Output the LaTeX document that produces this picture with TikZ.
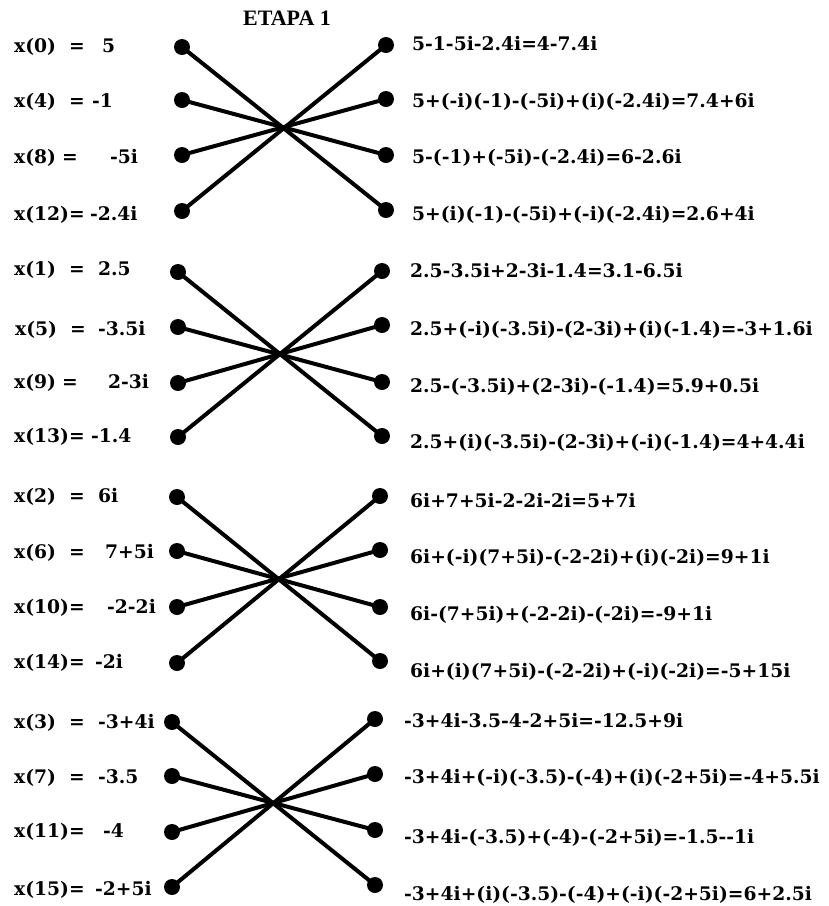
\documentclass[tikz,border=0pt]{standalone}
\usepackage{fontspec}
\setmainfont{DejaVu Serif}
\newfontfamily\titlefont{Liberation Serif}
\begin{document}
\begin{tikzpicture}[x=1pt,y=-1pt,
  dot/.style={circle,fill=black,inner sep=0pt,minimum size=16pt},
  wire/.style={line width=4pt},
  txt/.style={anchor=base west,inner sep=0pt,font=\bfseries\fontsize{18.7}{22}\selectfont},
  eqs/.style={anchor=base,inner sep=0pt,font=\bfseries\fontsize{18.7}{22}\selectfont},
  title/.style={anchor=base,inner sep=0pt,font=\titlefont\bfseries\fontsize{22}{24}\selectfont}]
\useasboundingbox (0,0) rectangle (829,906);

\node[title] (etapa) at (287,25) {ETAPA 1};

% four butterflies: left dots, right dots, crossing wires
\foreach \g/\lx/\rx/\la/\lb/\lc/\ld/\ra/\rb/\rc/\rd in {
  1/182/386/47/100/155/211/45/99/155/210,
  2/178/382/272/327/383/437/271/325/382/436,
  3/177/380/497/551/607/663/496/550/607/661,
  4/172/375/722/776/832/887/719/774/830/885}{
  \node[dot] (L\g-1) at (\lx,\la) {};
  \node[dot] (L\g-2) at (\lx,\lb) {};
  \node[dot] (L\g-3) at (\lx,\lc) {};
  \node[dot] (L\g-4) at (\lx,\ld) {};
  \node[dot] (R\g-1) at (\rx,\ra) {};
  \node[dot] (R\g-2) at (\rx,\rb) {};
  \node[dot] (R\g-3) at (\rx,\rc) {};
  \node[dot] (R\g-4) at (\rx,\rd) {};
  \draw[wire] (L\g-1.center) -- (R\g-4.center);
  \draw[wire] (L\g-2.center) -- (R\g-3.center);
  \draw[wire] (L\g-3.center) -- (R\g-2.center);
  \draw[wire] (L\g-4.center) -- (R\g-1.center);
}

% inputs, group 1
\node[txt] (x0)  at (14,52)  {x(0)};  \node[eqs] (e0) at (77,52)  {=}; \node[txt] (v0)  at (102,52) {5};
\node[txt] (x4)  at (14,107) {x(4)};  \node[eqs] (e4) at (77,107) {=}; \node[txt] (v4)  at (92,107)  {-1};
\node[txt] (x8)  at (14,163) {x(8)};  \node[eqs] (e8) at (70,163) {=}; \node[txt] (v8)  at (110,163) {-5i};
\node[txt] (x12) at (14,220) {x(12)=}; \node[txt] (v12) at (90,220) {-2.4i};
% inputs, group 2
\node[txt] (x1)  at (14,275) {x(1)};  \node[eqs] (e1) at (77,275) {=}; \node[txt] (v1)  at (98,275)  {2.5};
\node[txt] (x5)  at (15,335) {x(5)};  \node[eqs] (e5) at (78,335) {=}; \node[txt] (v5)  at (98,335)  {-3.5i};
\node[txt] (x9)  at (14,388) {x(9)};  \node[eqs] (e9) at (70,388) {=}; \node[txt] (v9)  at (108,388) {2-3i};
\node[txt] (x13) at (14,442) {x(13)=}; \node[txt] (v13) at (91,442) {-1.4};
% inputs, group 3
\node[txt] (x2)  at (14,502) {x(2)};  \node[eqs] (e2) at (77,502) {=}; \node[txt] (v2)  at (98,502)  {6i};
\node[txt] (x6)  at (14,558) {x(6)};  \node[eqs] (e6) at (77,558) {=}; \node[txt] (v6)  at (105,558) {7+5i};
\node[txt] (x10) at (14,613) {x(10)=}; \node[txt] (v10) at (107,613) {-2-2i};
\node[txt] (x14) at (14,668) {x(14)=}; \node[txt] (v14) at (95,668) {-2i};
% inputs, group 4
\node[txt] (x3)  at (14,728) {x(3)};  \node[eqs] (e3) at (77,728) {=}; \node[txt] (v3)  at (98,728)  {-3+4i};
\node[txt] (x7)  at (14,783) {x(7)};  \node[eqs] (e7) at (77,783) {=}; \node[txt] (v7)  at (98,783)  {-3.5};
\node[txt] (x11) at (14,837) {x(11)=}; \node[txt] (v11) at (103,837) {-4};
\node[txt] (x15) at (14,895) {x(15)=}; \node[txt] (v15) at (95,895) {-2+5i};

% outputs
\node[txt] (y0)  at (412,50)  {5-1-5i-2.4i=4-7.4i};
\node[txt] (y1)  at (412,107) {5+(-i)(-1)-(-5i)+(i)(-2.4i)=7.4+6i};
\node[txt] (y2)  at (412,163) {5-(-1)+(-5i)-(-2.4i)=6-2.6i};
\node[txt] (y3)  at (412,220) {5+(i)(-1)-(-5i)+(-i)(-2.4i)=2.6+4i};
\node[txt] (y4)  at (410,277) {2.5-3.5i+2-3i-1.4=3.1-6.5i};
\node[txt] (y5)  at (410,335) {2.5+(-i)(-3.5i)-(2-3i)+(i)(-1.4)=-3+1.6i};
\node[txt] (y6)  at (410,392) {2.5-(-3.5i)+(2-3i)-(-1.4)=5.9+0.5i};
\node[txt] (y7)  at (410,448) {2.5+(i)(-3.5i)-(2-3i)+(-i)(-1.4)=4+4.4i};
\node[txt] (y8)  at (410,507) {6i+7+5i-2-2i-2i=5+7i};
\node[txt] (y9)  at (410,563) {6i+(-i)(7+5i)-(-2-2i)+(i)(-2i)=9+1i};
\node[txt] (y10) at (410,620) {6i-(7+5i)+(-2-2i)-(-2i)=-9+1i};
\node[txt] (y11) at (410,677) {6i+(i)(7+5i)-(-2-2i)+(-i)(-2i)=-5+15i};
\node[txt] (y12) at (404,727) {-3+4i-3.5-4-2+5i=-12.5+9i};
\node[txt] (y13) at (404,783) {-3+4i+(-i)(-3.5)-(-4)+(i)(-2+5i)=-4+5.5i};
\node[txt] (y14) at (404,843) {-3+4i-(-3.5)+(-4)-(-2+5i)=-1.5-{}-1i};
\node[txt] (y15) at (404,900) {-3+4i+(i)(-3.5)-(-4)+(-i)(-2+5i)=6+2.5i};
\end{tikzpicture}
\end{document}
